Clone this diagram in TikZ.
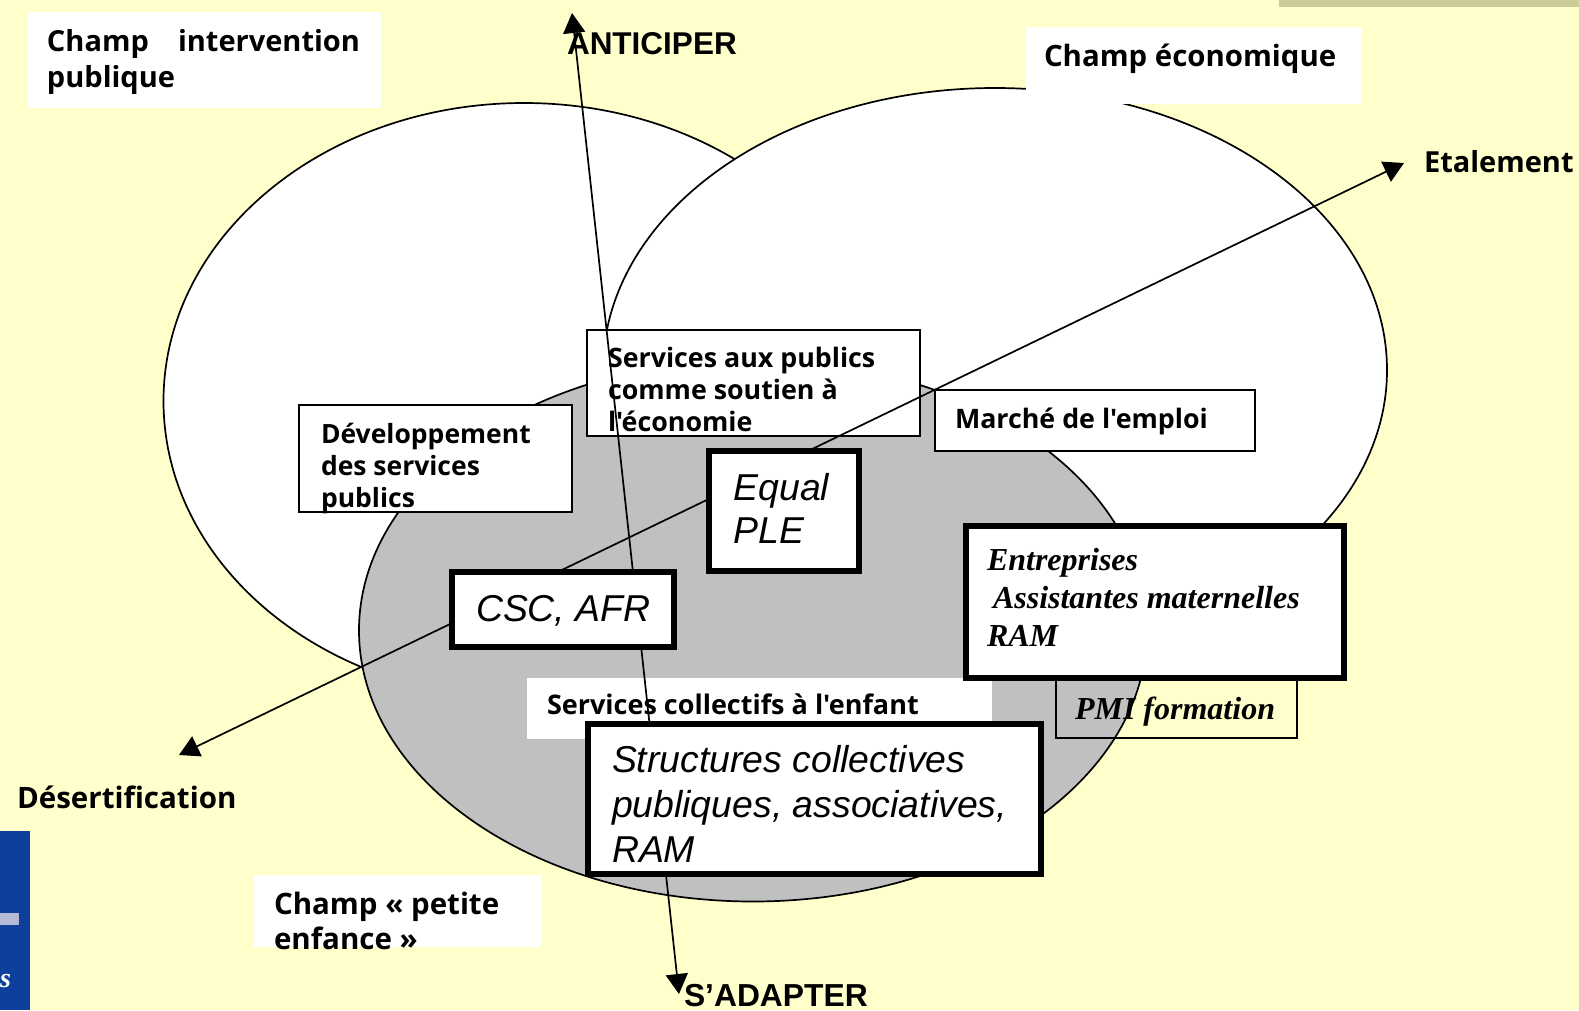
\documentclass[tikz,border=0pt]{standalone}
\usepackage{fontspec}
\usetikzlibrary{arrows.meta}
\setmainfont{Liberation Sans}
\newfontfamily\tah{Open Sans}[BoldFont={Open Sans Bold}]
\newfontfamily\tim{Liberation Serif}
\definecolor{bgy}{HTML}{FFFFCC}
\definecolor{grayell}{HTML}{C0C0C0}
\definecolor{logob}{HTML}{0F3F9C}
\definecolor{logol}{HTML}{B4BAD6}
\definecolor{khaki}{HTML}{CCCC99}
\newcommand{\tahf}[2]{\tah\bfseries\fontsize{#1}{#2}\selectfont}
\newcommand{\itf}[2]{\itshape\fontsize{#1}{#2}\selectfont}
\newcommand{\timf}[2]{\tim\bfseries\itshape\fontsize{#1}{#2}\selectfont}
% width, height, first baseline from top, left offset, font+text
\newcommand{\fb}[5]{\parbox[t][#2pt][t]{#1pt}{\lineskiplimit=-100pt\parindent=0pt\leftskip=#4pt\rightskip=0pt plus 1fil\relax\noindent\vrule height #3pt width 0pt depth 0pt #5\par}}
\tikzset{
  panel/.style={anchor=north west,inner sep=0pt,outer sep=0pt,text=black},
  plainbox/.style={panel,fill=white},
  thinbox/.style={panel,draw=black,line width=1.6pt,fill=white},
  openbox/.style={panel,draw=black,line width=1.6pt},
  thickbox/.style={panel,draw=black,line width=6pt,fill=white},
  free/.style={anchor=base west,inner sep=0pt,outer sep=0pt,text=black},
  ell/.style={draw=black,line width=1.7pt},
  axis/.style={draw=black,line width=1.7pt,{Triangle[length=20pt,width=22pt]}-{Triangle[length=20pt,width=22pt]}}
}
\begin{document}
\begin{tikzpicture}[x=1pt,y=-1pt]
\useasboundingbox (0,0) rectangle (1579,1010);
\fill[bgy] (0,0) rectangle (1579,1010);
\fill[khaki] (1279,0) rectangle (1579,7);
\fill[logob] (0,831) rectangle (30,1010);
\fill[logol] (0,913) rectangle (19,925);
\node[free,text=white] (logos) at (0,987) {\timf{28}{30}s};
% ellipses
\draw[ell,fill=white] (524,401) ellipse [x radius=360.5,y radius=298];
\draw[ell,fill=white] (995,370) ellipse [x radius=392,y radius=282];
\node[plainbox] (champpub) at (27,12) {\fb{354}{96}{39.5}{20}{\tahf{29}{36}\hbox to 313pt{Champ\hfill intervention}\\publique}};
\node[plainbox] (champeco) at (1026,27) {\fb{336}{77}{39.5}{18}{\tahf{29.4}{36}Champ économique}};
\draw[ell,fill=grayell] (753,630.5) ellipse [x radius=394,y radius=271];
\node[plainbox] (champpe) at (254,875) {\fb{288}{72}{39}{20}{\tahf{29.5}{35}Champ « petite\\enfance »}};
% thin boxes
\node[thinbox] (dev) at (299,405) {\fb{273}{107}{38}{22}{\tahf{26.5}{32}Développement\\des services\\publics}};
\node[thinbox] (servpub) at (587,330) {\fb{333}{106}{37}{21}{\tahf{26.8}{32}Services aux publics\\comme soutien à\\l'économie}};
\node[thinbox] (marche) at (935,390) {\fb{320}{61}{38}{20}{\tahf{26.8}{32}Marché de l'emploi}};
\node[plainbox] (servcol) at (527,678) {\fb{465}{61}{36}{20}{\tahf{27}{32}Services collectifs à l'enfant}};
\node[openbox] (pmi) at (1056,670) {\fb{241}{68}{49}{19}{\timf{32}{38}PMI formation}};
% axes
\coordinate (antip) at (572,13);
\coordinate (adapt) at (679,994);
\coordinate (etal) at (1404,163);
\coordinate (deser) at (179,755);
\draw[axis] (adapt) -- (antip);
\draw[axis] (deser) -- (etal);
% thick boxes
\node[thickbox] (equal) at (709,451) {\fb{150}{120}{49.5}{24.5}{\itf{37.4}{43}Equal\\PLE}};
\node[thickbox] (csc) at (452,572) {\fb{222}{75}{49}{24}{\itf{37.4}{43}CSC, AFR}};
\node[thickbox] (entr) at (966,526) {\fb{378}{152}{44.5}{21}{\timf{32}{38}Entreprises\\\hspace*{6pt}Assistantes maternelles\\RAM}};
\node[thickbox] (struct) at (588,724) {\fb{453}{150}{48}{24}{\itf{37.4}{45}Structures collectives\\publiques, associatives,\\RAM}};
% free labels
\node[free] (lant) at (567,54) {\bfseries\fontsize{31.5}{36}\selectfont ANTICIPER};
\node[free] (lada) at (684,1006) {\bfseries\fontsize{31.8}{36}\selectfont S’ADAPTER};
\node[free] (leta) at (1424,172) {\tahf{29}{32}Etalement};
\node[free] (ldes) at (17,808) {\tahf{29.5}{32}Désertification};
\end{tikzpicture}
\end{document}
